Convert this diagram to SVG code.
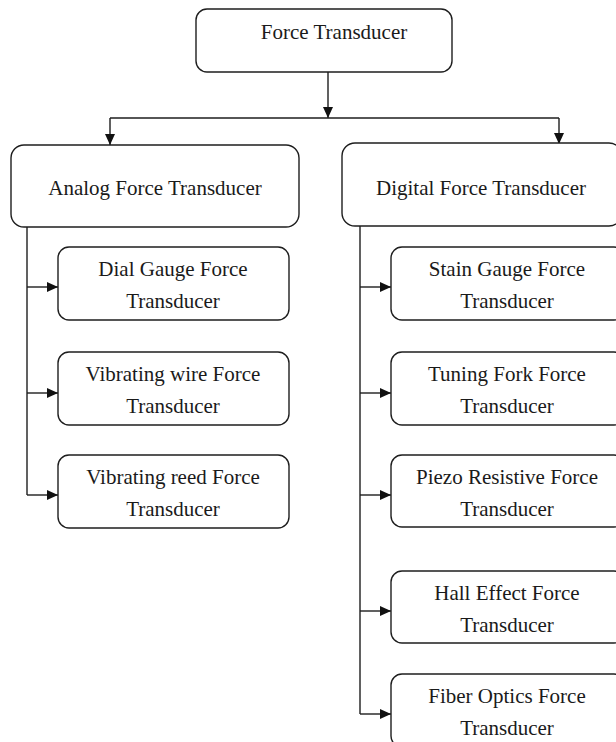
<svg xmlns="http://www.w3.org/2000/svg" width="616" height="742" viewBox="0 0 616 742">
<defs>
<style>
.box{fill:#fff;stroke:#1e1e1e;stroke-width:1.4}
.t{font-family:"Liberation Serif","Times New Roman",serif;font-size:21px;fill:#1a1a1a;text-anchor:middle}
.ln{fill:none;stroke:#1e1e1e;stroke-width:1.4}
</style>
<marker id="ah" viewBox="0 0 11 10" refX="11" refY="5" markerWidth="11" markerHeight="10" markerUnits="userSpaceOnUse" orient="auto">
<path d="M0,0 L11,5 L0,10 Z" fill="#111"/>
</marker>
</defs>
<g id="connectors">
<path class="ln" d="M328,72 V118" marker-end="url(#ah)"/>
<path class="ln" d="M110,118 H559"/>
<path class="ln" d="M110,118 V145" marker-end="url(#ah)"/>
<path class="ln" d="M559,118 V144" marker-end="url(#ah)"/>
<path class="ln" d="M27,227 V495"/>
<path class="ln" d="M27,287 H58" marker-end="url(#ah)"/>
<path class="ln" d="M27,393 H58" marker-end="url(#ah)"/>
<path class="ln" d="M27,495 H58" marker-end="url(#ah)"/>
<path class="ln" d="M360,226 V714"/>
<path class="ln" d="M360,287 H391" marker-end="url(#ah)"/>
<path class="ln" d="M360,393 H391" marker-end="url(#ah)"/>
<path class="ln" d="M360,495 H391" marker-end="url(#ah)"/>
<path class="ln" d="M360,611 H391" marker-end="url(#ah)"/>
<path class="ln" d="M360,714 H391" marker-end="url(#ah)"/>
</g>
<g id="n-root"><rect class="box" x="196" y="9" width="256" height="63" rx="11"/><text class="t" x="334" y="39">Force Transducer</text></g>
<g id="n-analog"><rect class="box" x="11" y="145" width="288" height="82" rx="13"/><text class="t" x="155" y="195">Analog Force Transducer</text></g>
<g id="n-digital"><rect class="box" x="342" y="143" width="280" height="83" rx="13"/><text class="t" x="481" y="195">Digital Force Transducer</text></g>
<g id="n-dial"><rect class="box" x="58" y="247" width="231" height="73" rx="11"/><text class="t" x="173" y="276">Dial Gauge Force</text><text class="t" x="173" y="308">Transducer</text></g>
<g id="n-wire"><rect class="box" x="58" y="352" width="231" height="73" rx="11"/><text class="t" x="173" y="381">Vibrating wire Force</text><text class="t" x="173" y="413">Transducer</text></g>
<g id="n-reed"><rect class="box" x="58" y="455" width="231" height="73" rx="11"/><text class="t" x="173" y="484">Vibrating reed Force</text><text class="t" x="173" y="516">Transducer</text></g>
<g id="n-strain"><rect class="box" x="391" y="247" width="234" height="73" rx="11"/><text class="t" x="507" y="276">Stain Gauge Force</text><text class="t" x="507" y="308">Transducer</text></g>
<g id="n-fork"><rect class="box" x="391" y="352" width="234" height="73" rx="11"/><text class="t" x="507" y="381">Tuning Fork Force</text><text class="t" x="507" y="413">Transducer</text></g>
<g id="n-piezo"><rect class="box" x="391" y="455" width="234" height="72" rx="11"/><text class="t" x="507" y="484">Piezo Resistive Force</text><text class="t" x="507" y="516">Transducer</text></g>
<g id="n-hall"><rect class="box" x="391" y="571" width="234" height="72" rx="11"/><text class="t" x="507" y="600">Hall Effect Force</text><text class="t" x="507" y="632">Transducer</text></g>
<g id="n-fiber"><rect class="box" x="391" y="674" width="234" height="73" rx="11"/><text class="t" x="507" y="703">Fiber Optics Force</text><text class="t" x="507" y="735">Transducer</text></g>
</svg>
